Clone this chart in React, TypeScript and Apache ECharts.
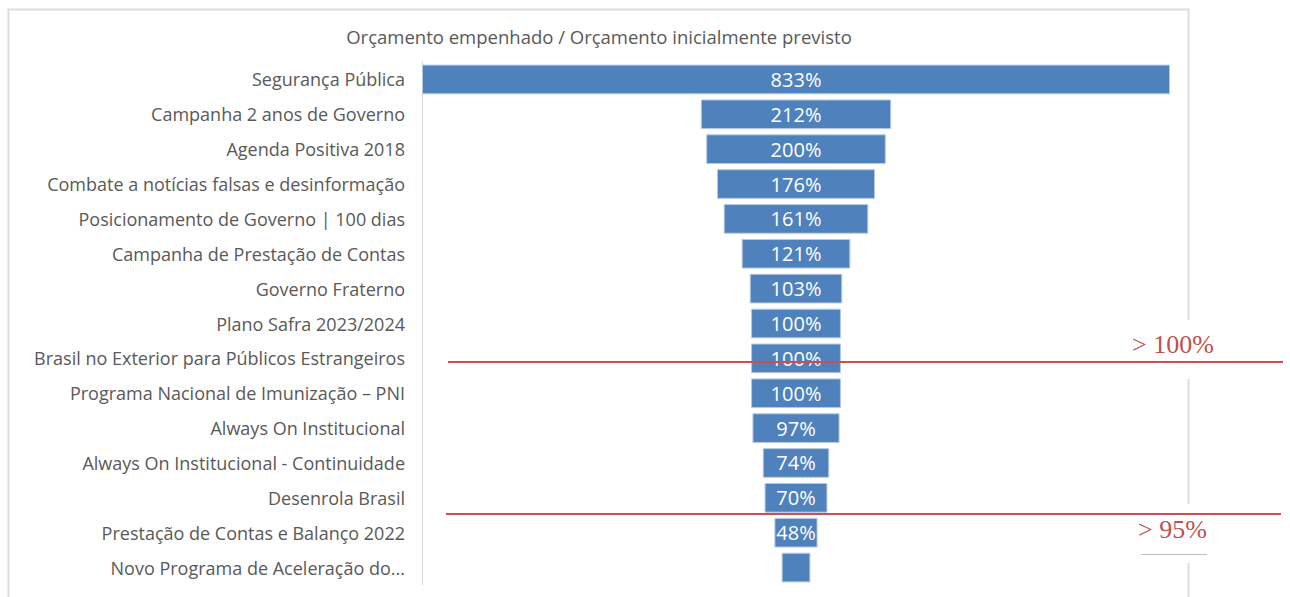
import React, { useEffect, useRef } from "react";
import * as echarts from "echarts";

const categories = [
  "Segurança Pública",
  "Campanha 2 anos de Governo",
  "Agenda Positiva 2018",
  "Combate a notícias falsas e desinformação",
  "Posicionamento de Governo | 100 dias",
  "Campanha de Prestação de Contas",
  "Governo Fraterno",
  "Plano Safra 2023/2024",
  "Brasil no Exterior para Públicos Estrangeiros",
  "Programa Nacional de Imunização – PNI",
  "Always On Institucional",
  "Always On Institucional - Continuidade",
  "Desenrola Brasil",
  "Prestação de Contas e Balanço 2022",
  "Novo Programa de Aceleração do...",
];
const values = [833, 212, 200, 176, 161, 121, 103, 100, 100, 100, 97, 74, 70, 48, 32];
const showLabel = [true, true, true, true, true, true, true, true, true, true, true, true, true, true, false];
const titleText = "Orçamento empenhado / Orçamento inicialmente previsto";
const noteHigh = "> 100%";
const noteLow = "> 95%";

export default function App() {
  const ref = useRef<HTMLDivElement>(null);
  useEffect(() => {
    if (!ref.current) return;
    const chart = echarts.init(ref.current, null, { renderer: "svg" });
    const maxV = Math.max(...values);
    const font = "'Open Sans', sans-serif";
    chart.setOption({
      animation: false,
      title: {
        text: titleText,
        left: 594,
        top: 22,
        textAlign: "center",
        textStyle: { fontFamily: font, fontSize: 18.5, fontWeight: "normal", color: "#595959" },
      },
      grid: { left: 422, right: 120, top: 62, height: 523 },
      xAxis: { type: "value", min: 0, max: maxV, show: false },
      yAxis: {
        type: "category",
        data: categories,
        inverse: true,
        axisLine: { show: true, lineStyle: { color: "#D9D9D9", width: 1 } },
        axisTick: { show: false },
        axisLabel: {
          fontFamily: font,
          fontSize: 18,
          color: "#595959",
          margin: 17,
          padding: [4, 0, 0, 0],
        },
      },
      series: [
        {
          type: "bar",
          stack: "f",
          data: values.map((v) => (maxV - v) / 2),
          itemStyle: { color: "transparent" },
          silent: true,
          barCategoryGap: "15%",
        },
        {
          type: "bar",
          stack: "f",
          barCategoryGap: "15%",
          data: values.map((v, i) => ({
            value: v,
            label: { show: showLabel[i] },
          })),
          itemStyle: { color: "#4F81BD", borderColor: "#B4C8E2", borderWidth: 1 },
          label: {
            show: true,
            position: "inside",
            formatter: "{c}%",
            color: "#FFFFFF",
            fontFamily: font,
            fontSize: 20,
          },
        },
      ],
      graphic: [
        {
          type: "rect",
          z: 0,
          shape: { x: 8.5, y: 9.5, width: 1180, height: 620 },
          style: { fill: "none", stroke: "#DDDDDD", lineWidth: 2 },
        },
        {
          type: "rect",
          z: 10,
          shape: { x: 1128, y: 320, width: 92, height: 59 },
          style: { fill: "#FFFFFF" },
        },
        {
          type: "rect",
          z: 10,
          shape: { x: 1128, y: 504, width: 92, height: 59 },
          style: { fill: "#FFFFFF" },
        },
        {
          type: "line",
          z: 20,
          shape: { x1: 1141, y1: 554.5, x2: 1207, y2: 554.5 },
          style: { stroke: "#BFBFBF", lineWidth: 1 },
        },
        {
          type: "line",
          z: 100,
          shape: { x1: 448, y1: 362, x2: 1283, y2: 362 },
          style: { stroke: "#C8504E", lineWidth: 2 },
        },
        {
          type: "line",
          z: 100,
          shape: { x1: 446, y1: 514, x2: 1281, y2: 514 },
          style: { stroke: "#C8504E", lineWidth: 2 },
        },
        {
          type: "text",
          z: 100,
          x: 1132,
          y: 357,
          style: {
            text: noteHigh,
            fill: "#C0504D",
            font: "26px 'Liberation Serif', serif",
            verticalAlign: "bottom",
          },
        },
        {
          type: "text",
          z: 100,
          x: 1138,
          y: 542,
          style: {
            text: noteLow,
            fill: "#C0504D",
            font: "26px 'Liberation Serif', serif",
            verticalAlign: "bottom",
          },
        },
      ],
    });
    return () => chart.dispose();
  }, []);
  return (
    <div
      ref={ref}
      style={{ position: "absolute", left: 0, top: 0, width: 1290, height: 597 }}
    />
  );
}
